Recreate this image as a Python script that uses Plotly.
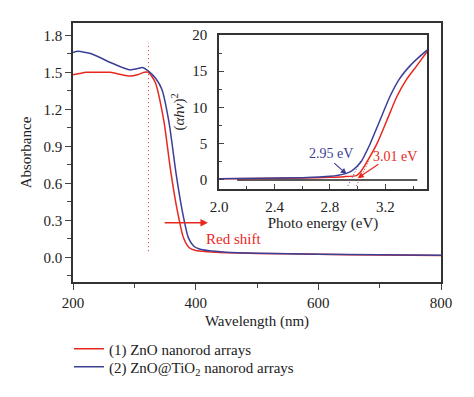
import plotly.graph_objects as go

# ---- main spectrum data ----
wl_red = [200, 210, 222, 240, 261, 280, 293, 305, 316, 323, 334, 348, 359, 370, 380, 389, 400, 420, 450, 500, 600, 700, 800]
abs_red = [1.48, 1.49, 1.50, 1.50, 1.50, 1.48, 1.47, 1.48, 1.50, 1.50, 1.42, 1.11, 0.71, 0.38, 0.16, 0.08, 0.055, 0.045, 0.038, 0.032, 0.025, 0.019, 0.015]
wl_blue = [200, 208, 230, 261, 280, 293, 305, 313, 323, 335, 345, 357, 368, 378, 388, 397, 405, 420, 450, 500, 600, 700, 800]
abs_blue = [1.66, 1.67, 1.65, 1.58, 1.54, 1.52, 1.53, 1.54, 1.51, 1.45, 1.36, 1.08, 0.68, 0.38, 0.16, 0.09, 0.07, 0.055, 0.042, 0.034, 0.026, 0.02, 0.016]

# ---- inset (Tauc) data ----
E_blue = [2.0, 2.3, 2.6, 2.8, 2.9, 2.96, 3.02, 3.09, 3.16, 3.23, 3.3, 3.38, 3.44, 3.5]
tauc_blue = [0.15, 0.22, 0.32, 0.5, 0.8, 1.3, 2.4, 5.0, 8.2, 11.4, 13.9, 15.8, 16.9, 17.9]
E_red = [2.0, 2.3, 2.6, 2.8, 2.9, 2.99, 3.02, 3.06, 3.14, 3.21, 3.28, 3.35, 3.42, 3.5]
tauc_red = [0.15, 0.2, 0.27, 0.36, 0.45, 0.6, 1.1, 2.3, 5.05, 8.2, 11.4, 13.8, 15.6, 17.7]

names = ["(1) ZnO nanorod arrays", "(2) ZnO@TiO<sub>2</sub> nanorod arrays"]
RED = "#e8281e"
BLUE = "#3c3f96"
FONT = "Liberation Serif"
FS = 15

fig = go.Figure()
fig.add_trace(go.Scatter(x=wl_red, y=abs_red, mode="lines", name=names[0], legend="legend",
                         line=dict(color=RED, width=1.5, shape="spline", smoothing=0.6)))
fig.add_trace(go.Scatter(x=wl_blue, y=abs_blue, mode="lines", name=names[1], legend="legend2",
                         line=dict(color=BLUE, width=1.5, shape="spline", smoothing=0.6)))

# inset traces
fig.add_trace(go.Scatter(x=[2.13, 3.43], y=[0, 0], mode="lines", xaxis="x2", yaxis="y2",
                         line=dict(color="#222222", width=1.5), showlegend=False))
fig.add_trace(go.Scatter(x=E_red, y=tauc_red, mode="lines", xaxis="x2", yaxis="y2",
                         line=dict(color=RED, width=1.5, shape="spline", smoothing=0.5), showlegend=False))
fig.add_trace(go.Scatter(x=E_blue, y=tauc_blue, mode="lines", xaxis="x2", yaxis="y2",
                         line=dict(color=BLUE, width=1.5, shape="spline", smoothing=0.5), showlegend=False))
# tangent dotted lines
fig.add_trace(go.Scatter(x=[2.93, 3.02], y=[-0.8, 2.6], mode="lines", xaxis="x2", yaxis="y2",
                         line=dict(color=BLUE, width=1, dash="1px,2px"), showlegend=False))
fig.add_trace(go.Scatter(x=[2.99, 3.08], y=[-0.8, 2.6], mode="lines", xaxis="x2", yaxis="y2",
                         line=dict(color=RED, width=1, dash="1px,2px"), showlegend=False))

# vertical dotted line in main plot
fig.add_trace(go.Scatter(x=[323, 323], y=[0.05, 1.74], mode="lines",
                         line=dict(color=RED, width=1, dash="1px,3px"), showlegend=False))

axis_common = dict(showline=True, linecolor="#333333", linewidth=1.5, mirror=True,
                   tickfont=dict(family=FONT, size=FS, color="#222"), showgrid=False, zeroline=False)

leg_common = dict(x=-0.011, xanchor="left", yanchor="middle", bgcolor="rgba(0,0,0,0)",
                  font=dict(family=FONT, size=FS, color="#222"))

fig.update_layout(
    width=474, height=397,
    margin=dict(l=65, r=41, t=7, b=123),
    paper_bgcolor="white", plot_bgcolor="white",
    font=dict(family=FONT, size=FS, color="#222"),
    xaxis=dict(range=[200, 800], tickvals=[200, 400, 600, 800], ticks="outside", ticklen=6,
               minor=dict(tickvals=[300, 500, 700], ticks="outside", ticklen=4),
               title=dict(text="Wavelength (nm)", font=dict(family=FONT, size=FS), standoff=6),
               **axis_common),
    yaxis=dict(range=[-0.2, 1.9], tickvals=[0.0, 0.3, 0.6, 0.9, 1.2, 1.5, 1.8],
               ticktext=["0.0", "0.3", "0.6", "0.9", "1.2", "1.5", "1.8"],
               ticks="outside", ticklen=6,
               minor=dict(tickvals=[-0.15, 0.15, 0.45, 0.75, 1.05, 1.35, 1.65], ticks="outside", ticklen=4),
               title=dict(text="Absorbance", font=dict(family=FONT, size=FS), standoff=8),
               **axis_common),
    xaxis2=dict(domain=[0.397, 0.962], anchor="y2", range=[2.0, 3.5],
                tickvals=[2.0, 2.4, 2.8, 3.2], ticktext=["2.0", "2.4", "2.8", "3.2"],
                ticks="inside", ticklen=5, ticklabelstandoff=3,
                minor=dict(tickvals=[2.2, 2.6, 3.0, 3.4], ticks="inside", ticklen=3),
                title=dict(text="Photo energy (eV)", font=dict(family=FONT, size=FS), standoff=2),
                **axis_common),
    yaxis2=dict(domain=[0.359, 0.954], anchor="x2", range=[-1.25, 20],
                tickvals=[0, 5, 10, 15, 20], ticks="inside", ticklen=5, ticklabelstandoff=7,
                minor=dict(tickvals=[2.5, 7.5, 12.5, 17.5], ticks="inside", ticklen=3),
                title=dict(text="(<i>αhν</i>)<sup>2</sup>", font=dict(family=FONT, size=FS), standoff=4),
                **axis_common),
    legend=dict(y=-0.259, **leg_common),
    legend2=dict(y=-0.328, **leg_common),
    showlegend=True,
)

# annotations
fig.add_annotation(x=420, y=0.28, ax=347, ay=0.28, xref="x", yref="y", axref="x", ayref="y",
                   showarrow=True, arrowhead=2, arrowsize=1, arrowwidth=1.5, arrowcolor=RED, text="")
fig.add_annotation(x=462, y=0.15, xref="x", yref="y", text="Red shift", showarrow=False,
                   font=dict(family=FONT, size=FS, color=RED))
fig.add_annotation(x=2.92, y=0.8, ax=2.82, ay=2.5, xref="x2", yref="y2", axref="x2", ayref="y2",
                   showarrow=True, arrowhead=2, arrowsize=1, arrowwidth=1.2, arrowcolor=BLUE, text="")
fig.add_annotation(x=2.81, y=3.7, xref="x2", yref="y2", text="2.95 eV", showarrow=False,
                   font=dict(family=FONT, size=14, color=BLUE))
fig.add_annotation(x=3.0, y=0.25, ax=3.16, ay=2.3, xref="x2", yref="y2", axref="x2", ayref="y2",
                   showarrow=True, arrowhead=2, arrowsize=1, arrowwidth=1.2, arrowcolor=RED, text="")
fig.add_annotation(x=3.27, y=3.2, xref="x2", yref="y2", text="3.01 eV", showarrow=False,
                   font=dict(family=FONT, size=14, color=RED))

fig.write_html("out.html")
